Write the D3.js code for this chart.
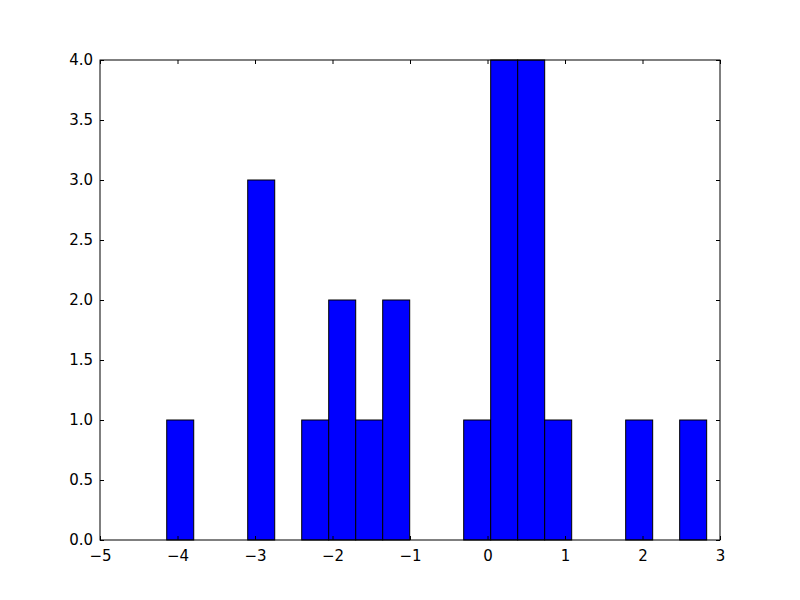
<!DOCTYPE html>
<html><head><meta charset="utf-8">
<script src="https://cdn.jsdelivr.net/npm/d3@7"></script>
<style>body{margin:0;background:#fff}svg{display:block}</style>
</head><body>
<script>
const binMin = -4.139;
const binMax = 2.828;
const counts = [1,0,0,3,0,1,2,1,2,0,0,1,4,4,1,0,0,1,0,1];
const xTicks = [-5,-4,-3,-2,-1,0,1,2,3];
const yTicks = [0,0.5,1,1.5,2,2.5,3,3.5,4];

const W=800,H=600, m={l:100,r:80,t:60,b:60};
const svg=d3.select("body").append("svg").attr("width",W).attr("height",H);
const x=d3.scaleLinear().domain([-5,3]).range([m.l,W-m.r]);
const y=d3.scaleLinear().domain([0,4]).range([H-m.b,m.t]);
const bw=(binMax-binMin)/counts.length;
const bins=counts.map((c,i)=>({x0:binMin+i*bw,x1:binMin+(i+1)*bw,c}));

svg.append("g").selectAll("rect").data(bins.filter(d=>d.c>0)).join("rect")
  .attr("x",d=>x(d.x0)).attr("width",d=>x(d.x1)-x(d.x0))
  .attr("y",d=>y(d.c)).attr("height",d=>y(0)-y(d.c))
  .attr("fill","#0000ff").attr("stroke","#000").attr("stroke-width",1);

const fmtX=d=>String(d).replace("-","\u2212");
const fmtY=d3.format(".1f");
const font="DejaVu Sans, sans-serif";
function style(g){g.select(".domain").remove();g.selectAll("line").attr("stroke","#000");
  g.selectAll("text").attr("font-family",font).attr("font-size",15).attr("fill","#000");}
svg.append("g").attr("transform",`translate(0,${H-m.b})`)
  .call(d3.axisBottom(x).tickValues(xTicks).tickFormat(fmtX).tickSizeInner(-4).tickSizeOuter(0).tickPadding(10)).call(style);
svg.append("g").attr("transform",`translate(0,${m.t})`)
  .call(d3.axisTop(x).tickValues(xTicks).tickFormat("").tickSizeInner(-4).tickSizeOuter(0)).call(style);
svg.append("g").attr("transform",`translate(${m.l},0)`)
  .call(d3.axisLeft(y).tickValues(yTicks).tickFormat(fmtY).tickSizeInner(-4).tickSizeOuter(0).tickPadding(7)).call(style);
svg.append("g").attr("transform",`translate(${W-m.r},0)`)
  .call(d3.axisRight(y).tickValues(yTicks).tickFormat("").tickSizeInner(-4).tickSizeOuter(0)).call(style);
svg.append("rect").attr("x",m.l).attr("y",m.t).attr("width",W-m.l-m.r).attr("height",H-m.t-m.b)
  .attr("fill","none").attr("stroke","#000").attr("stroke-width",1);
</script>
</body></html>
